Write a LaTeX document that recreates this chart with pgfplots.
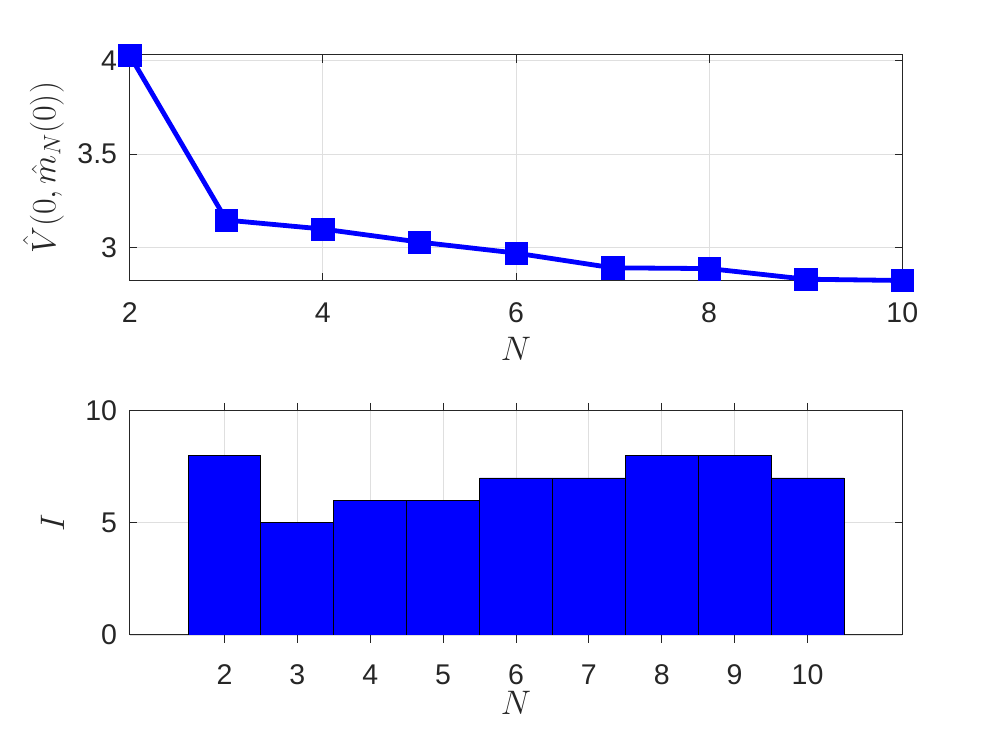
\RequirePackage{fix-cm}
\documentclass[border=0pt]{standalone}
\usepackage{fontspec}
\setmainfont{Liberation Sans}
\usepackage{pgfplots}
\pgfplotsset{compat=1.18}
\definecolor{axgray}{RGB}{38,38,38}
\definecolor{gridgray}{RGB}{223,223,223}
\pgfplotsset{
  myax/.style={
    scale only axis,
    width=772.6pt,
    axis line style={axgray, line width=1pt},
    every tick/.style={axgray, line width=1pt},
    tick align=inside,
    major tick length=7.7pt,
    grid=major,
    major grid style={gridgray, line width=0.8pt},
    /pgf/number format/assume math mode=true,
    tick label style={font=\fontsize{28.5}{32}\selectfont, text=axgray},
    xticklabel style={anchor=base, inner sep=0pt, yshift=-42pt},
    yticklabel style={anchor=east, inner sep=0pt, xshift=-12.4pt},
    label style={font=\fontsize{34}{40}\selectfont, text=axgray},
  }
}
\begin{document}
\begin{tikzpicture}
\path[use as bounding box] (0pt,0pt) rectangle (997pt,747pt);
\begin{axis}[myax,
  at={(129.7pt,466.3pt)}, anchor=south west,
  height=225.7pt,
  xmin=2, xmax=10, ymin=2.821, ymax=4.031,
  xtick={2,4,6,8,10}, ytick={3,3.5,4},
  clip=false,
  xlabel={$N$},
  xlabel style={at={(axis description cs:0.5,-0.3017)}, anchor=center},
  ylabel={$\hat{V}(0,\hat{m}_N(0))$},
  ylabel style={at={(axis description cs:-0.1116,0.5)}, anchor=center, rotate=0},
]
\addplot[blue, line width=4.8pt, mark=square*, mark size=11.2pt,
  mark options={solid, fill=blue, draw=blue, line width=0.5pt}]
  coordinates {(2,4.030) (3,3.146) (4,3.098) (5,3.028) (6,2.969) (7,2.890) (8,2.886) (9,2.829) (10,2.822)};
\end{axis}
\begin{axis}[myax,
  at={(129.7pt,112pt)}, anchor=south west,
  height=224.3pt,
  xmin=0.7, xmax=11.3, ymin=0, ymax=10,
  xtick={2,3,4,5,6,7,8,9,10}, ytick={0,5,10},
  ybar, bar width=1, bar shift=0,
  xlabel={$N$},
  xlabel style={at={(axis description cs:0.5,-0.301)}, anchor=center},
  ylabel={$I$},
  ylabel style={at={(axis description cs:-0.0999,0.5)}, anchor=center, rotate=0},
]
\addplot[fill=blue, draw=black, line width=0.8pt]
  coordinates {(2,8) (3,5) (4,6) (5,6) (6,7) (7,7) (8,8) (9,8) (10,7)};
\end{axis}
\end{tikzpicture}
\end{document}
